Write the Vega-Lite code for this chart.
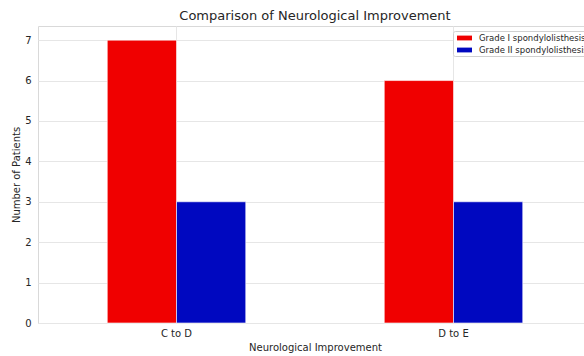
{
  "$schema": "https://vega.github.io/schema/vega-lite/v6.json",
  "width": 546,
  "height": 297,
  "autosize": {"type": "none"},
  "padding": {"left": 38, "top": 26, "right": 0, "bottom": 33},
  "background": "white",
  "title": {
    "text": "Comparison of Neurological Improvement",
    "font": "DejaVu Sans",
    "fontSize": 13,
    "fontWeight": "normal",
    "color": "#262626",
    "anchor": "middle",
    "dx": 4,
    "offset": 3
  },
  "config": {
    "font": "DejaVu Sans",
    "view": {"stroke": "#d9d9d9", "strokeWidth": 1},
    "axis": {
      "labelFont": "DejaVu Sans",
      "titleFont": "DejaVu Sans",
      "labelFontSize": 10,
      "titleFontSize": 10,
      "titleFontWeight": "normal",
      "labelColor": "#262626",
      "titleColor": "#262626",
      "gridColor": "#e6e6e6",
      "gridWidth": 1,
      "domain": false,
      "ticks": false
    }
  },
  "data": {
    "values": [
      {"category": "C to D", "series": "Grade I spondylolisthesis", "patients": 7},
      {"category": "C to D", "series": "Grade II spondylolisthesis", "patients": 3},
      {"category": "D to E", "series": "Grade I spondylolisthesis", "patients": 6},
      {"category": "D to E", "series": "Grade II spondylolisthesis", "patients": 3}
    ]
  },
  "mark": {"type": "bar", "stroke": "white", "strokeWidth": 0.6},
  "encoding": {
    "x": {
      "field": "category",
      "type": "nominal",
      "sort": null,
      "scale": {"range": [0, 554], "paddingInner": 0.5, "paddingOuter": 0.25},
      "axis": {
        "title": "Neurological Improvement",
        "labelAngle": 0,
        "labelPadding": 5,
        "titlePadding": 4,
        "titleX": 277,
        "grid": true
      }
    },
    "xOffset": {
      "field": "series",
      "type": "nominal",
      "sort": null,
      "scale": {"paddingInner": 0, "paddingOuter": 0}
    },
    "y": {
      "field": "patients",
      "type": "quantitative",
      "scale": {"domain": [0, 7.35], "nice": false},
      "axis": {
        "title": "Number of Patients",
        "values": [0, 1, 2, 3, 4, 5, 6, 7],
        "labelPadding": 7,
        "titlePadding": 3,
        "grid": true
      }
    },
    "color": {
      "field": "series",
      "type": "nominal",
      "sort": null,
      "scale": {
        "domain": ["Grade I spondylolisthesis", "Grade II spondylolisthesis"],
        "range": ["#f00000", "#0008c0"]
      },
      "legend": {
        "title": null,
        "orient": "none",
        "legendX": 415,
        "legendY": 5,
        "fillColor": "white",
        "strokeColor": "#d0d0d0",
        "cornerRadius": 2,
        "padding": 1,
        "symbolType": "M-0.5,-0.4H2V0.4H-0.5Z",
        "symbolSize": 144,
        "symbolStrokeWidth": 0,
        "labelFont": "DejaVu Sans",
        "labelFontSize": 8.5,
        "labelColor": "#262626",
        "labelOffset": 13,
        "rowPadding": 1
      }
    }
  }
}
